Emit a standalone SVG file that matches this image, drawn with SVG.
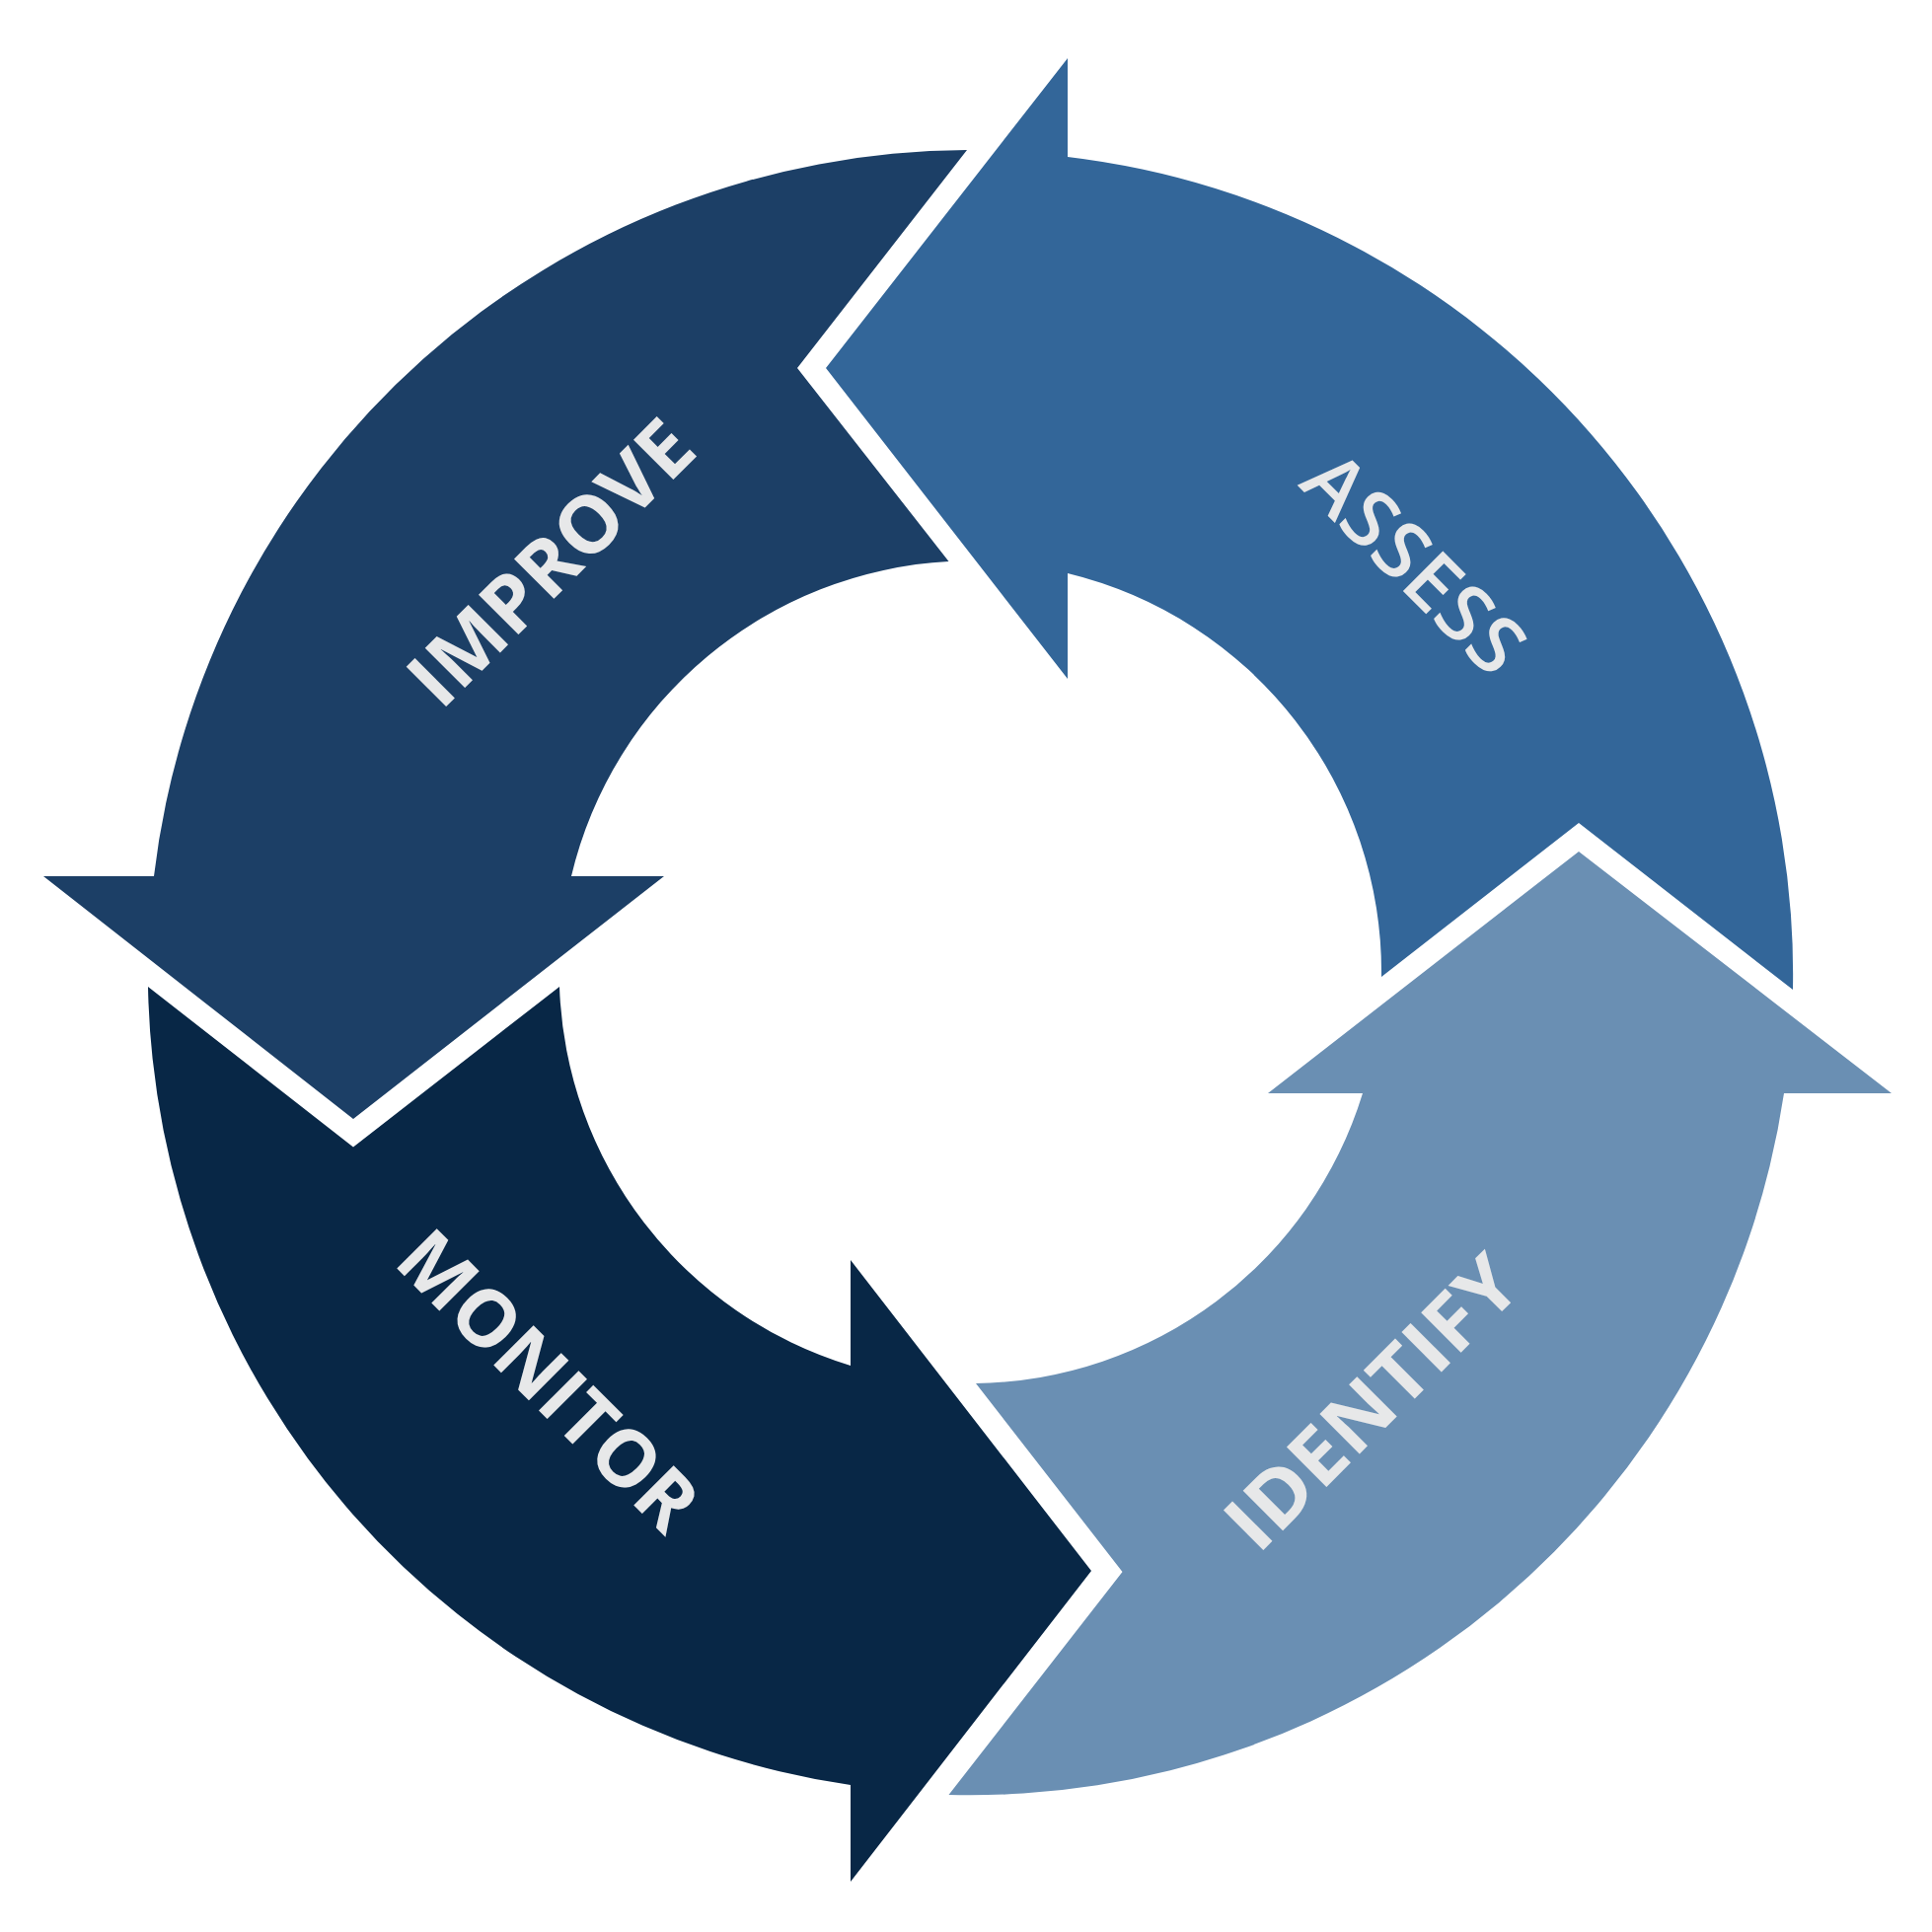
<svg xmlns="http://www.w3.org/2000/svg" width="1958" height="1958" viewBox="0 0 1958 1958">
<style>
.lbl{font-family:"Open Sans","Liberation Sans",sans-serif;font-size:80px;font-weight:700;fill:#e7e8e9;text-anchor:middle}
</style>
<rect width="1958" height="1958" fill="#ffffff"/>
<g id="improve">
<path fill="#1c3f66" d="M980,152 A834,834 0 0 0 156,888 L44,888 L358,1134 L673,888 L579,888 A416,416 0 0 1 961.5,569 L808,373 Z"/>
<g transform="translate(558,570) rotate(-45)"><text class="lbl" x="0" y="28.5" textLength="371" lengthAdjust="spacingAndGlyphs">IMPROVE</text></g>
</g>
<g id="assess">
<path fill="#336699" d="M1082,59 L837,373 L1082,688 L1082,581 A416,416 0 0 1 1400,990 L1600,834 L1817,1003 A834,834 0 0 0 1082,159 Z"/>
<g transform="translate(1434,570) rotate(45)"><text class="lbl" style="font-weight:600" x="0" y="29" textLength="279" lengthAdjust="spacingAndGlyphs">ASSESS</text></g>
</g>
<g id="identify">
<path fill="#6a8fb3" d="M1285,1108 L1600,863 L1917,1108 L1808,1108 A834,834 0 0 1 961.5,1819 L1137.5,1593 L989,1402 A416,416 0 0 0 1381,1108 Z"/>
<g transform="translate(1390,1421) rotate(-45)"><text class="lbl" x="0" y="28.5" textLength="382" lengthAdjust="spacingAndGlyphs">IDENTIFY</text></g>
</g>
<g id="monitor">
<path fill="#082746" d="M150,1000 L358,1162.5 L567,1000 A416,416 0 0 0 862,1384 L862,1277 L1106,1592 L862,1907 L862,1809 A834,834 0 0 1 150,1000 Z"/>
<g transform="translate(556,1399) rotate(45)"><text class="lbl" x="0" y="28.5" textLength="392" lengthAdjust="spacingAndGlyphs">MONITOR</text></g>
</g>
<g id="connectors"/>
</svg>
